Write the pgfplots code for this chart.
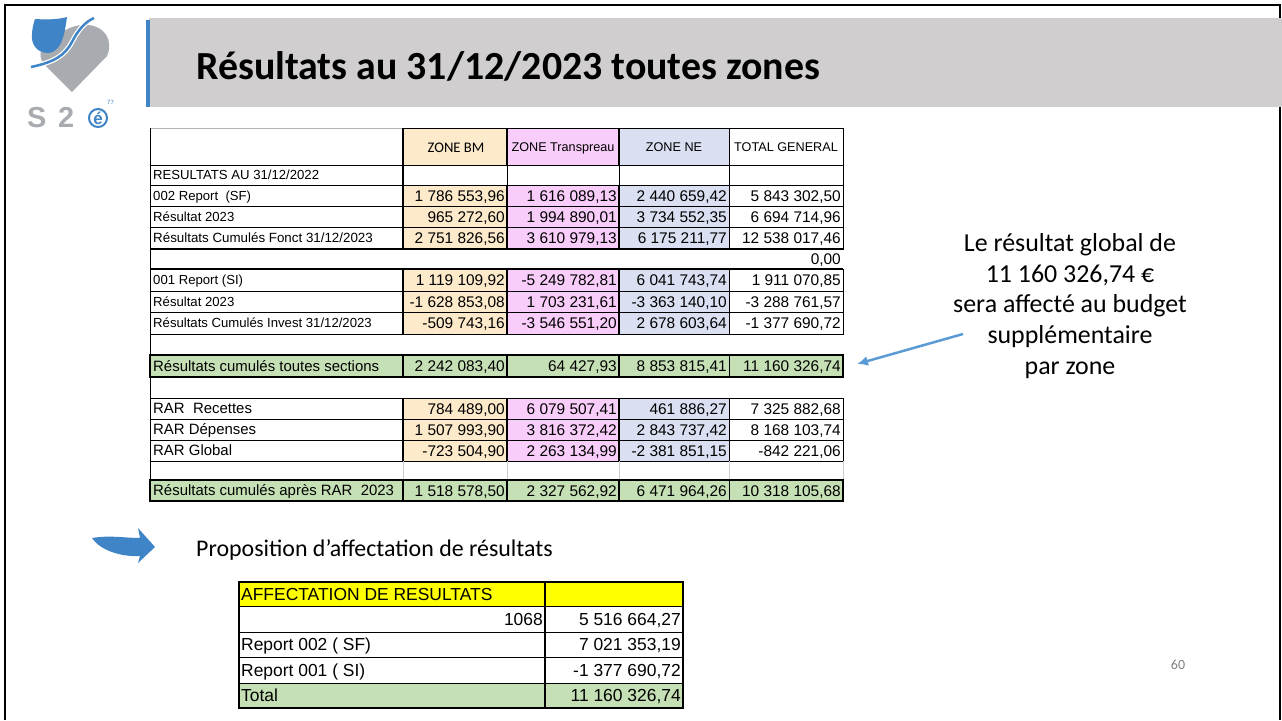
\documentclass[border=0pt]{standalone}
\usepackage{fontspec}
\setmainfont{Liberation Sans}
\newfontfamily\calibri{Carlito}
\usepackage{pgfplots}
\pgfplotsset{compat=1.18}
\usetikzlibrary{arrows.meta}
\definecolor{cBM}{RGB}{253,234,202}
\definecolor{cTR}{RGB}{249,205,249}
\definecolor{cNE}{RGB}{218,223,241}
\definecolor{cGR}{RGB}{197,224,180}
\definecolor{cTitle}{RGB}{208,206,206}
\definecolor{cBlue}{RGB}{62,132,198}
\definecolor{cLogoGray}{RGB}{168,171,175}
\definecolor{cArrow}{RGB}{91,155,213}
\definecolor{cYel}{RGB}{255,255,0}
\newcommand\fs[1]{\fontsize{#1}{#1}\selectfont}
\tikzset{lbl/.style={anchor=base west,inner sep=0},
         num/.style={anchor=base east,inner sep=0,font=\fontsize{15.5}{15.5}\selectfont}}
% coloured row of the main table: top, bottom, label, BM, Transpreau, NE, total, label size
\newcommand\zrow[8]{%
 \fill[cBM] (403,#1) rectangle (507,#2);
 \fill[cTR] (507,#1) rectangle (619,#2);
 \fill[cNE] (619,#1) rectangle (729,#2);
 \draw[line width=0.9pt] (150,#1) rectangle (843,#2);
 \draw[line width=0.9pt] (729,#1) -- (729,#2);
 \draw[line width=1.6pt] (403,#1) -- (403,#2) (507,#1) -- (507,#2) (619,#1) -- (619,#2);
 \node[lbl] at (153,{(#1+#2)/2+4.8}) {\fs{#8}#3};
 \node[num] at (505,{(#1+#2)/2+5.5}) {#4};
 \node[num] at (617,{(#1+#2)/2+5.5}) {#5};
 \node[num] at (727,{(#1+#2)/2+5.5}) {#6};
 \node[num] at (841,{(#1+#2)/2+5.5}) {#7};
}
% green total row
\newcommand\grow[7]{%
 \fill[cGR] (150,#1) rectangle (843,#2);
 \draw[line width=0.9pt] (729,#1) -- (729,#2);
 \draw[line width=1.6pt] (403,#1) -- (403,#2) (507,#1) -- (507,#2) (619,#1) -- (619,#2);
 \draw[line width=2pt] (150,#1) rectangle (843,#2);
 \node[lbl] at (153,{(#1+#2)/2+5.3}) {\fs{15}#3};
 \node[num] at (505,{(#1+#2)/2+5.5}) {#4};
 \node[num] at (617,{(#1+#2)/2+5.5}) {#5};
 \node[num] at (727,{(#1+#2)/2+5.5}) {#6};
 \node[num] at (841,{(#1+#2)/2+5.5}) {#7};
}
% row of the affectation table
\newcommand\arow[4]{%
 \fill[#4] (239,#1) rectangle (683,#2);
 \draw[line width=1pt] (239,#1) rectangle (683,#2);
 \node[lbl] at (241,{(#1+#2)/2+6.3}) {\fs{17.5}#3};
}
\begin{document}
\begin{tikzpicture}
\begin{axis}[width=1282bp,height=720bp,scale only axis,
  xmin=0,xmax=1282,ymin=0,ymax=720,y dir=reverse,
  hide axis,clip=false]
\addplot[draw=none] coordinates {(0,0) (1282,720)};
\fill[white] (0,0) rectangle (1282,720);
% slide frame
\draw[black,line width=2pt] (5,720) -- (5,5) -- (1280,5) -- (1280,720);
% title band
\fill[cTitle] (149,18) rectangle (1282,107);
\fill[cBlue] (145.5,20) rectangle (149.5,107);
\node[anchor=base west,inner sep=0] at (196,79) {\calibri\bfseries\fs{40}Résultats au 31/12/2023 toutes zones};
% logo
\fill[cLogoGray] (72,92) -- (44,64) .. controls (36,55) and (42,40) .. (56,42) .. controls (60,30) and (74,24) .. (88,25) .. controls (104,26) and (114,40) .. (107,56) -- cycle;
\fill[cBlue] (35,19) .. controls (50,20) and (60,19) .. (67,17) .. controls (65,30) and (63,52) .. (48,53) .. controls (37,53) and (31,44) .. (32,35) .. controls (32,28) and (34,22) .. (35,19) -- cycle;
\draw[white,line width=5pt] (31,67) .. controls (55,62) and (65,55) .. (72,42) .. controls (78,30) and (85,22) .. (94,18);
\draw[cBlue,line width=2.5pt] (31,67) .. controls (55,62) and (65,55) .. (72,42) .. controls (78,30) and (85,22) .. (94,18);
\node[lbl,text=cLogoGray] at (27,127) {\bfseries\fs{29}S};
\node[lbl,text=cLogoGray] at (58,127) {\bfseries\fs{29}2};
\draw[cBlue,line width=2pt] (98,118) circle (9);
\node[anchor=base,inner sep=0,text=cBlue] at (98,124) {\bfseries\fs{17}é};
\node[lbl,text=cBlue] at (107,104) {\fs{6}77};
% ===== main table =====
% header
\fill[cBM] (403,128) rectangle (507,165);
\fill[cTR] (507,128) rectangle (619,165);
\fill[cNE] (619,128) rectangle (729,165);
\draw[gray!60,line width=0.8pt] (150,128) -- (403,128);
\draw[line width=0.9pt] (150,128) -- (150,165) -- (843,165) -- (843,128) -- (403,128);
\draw[line width=0.9pt] (729,128) -- (729,165);
\draw[line width=1.6pt] (403,128) -- (403,165) (507,128) -- (507,165) (619,128) -- (619,165);
\node[anchor=base,inner sep=0] at (456,152.5) {\calibri\fs{14.7}ZONE BM};
\node[anchor=base,inner sep=0] at (563,151.5) {\fs{12.7}ZONE Transpreau};
\node[anchor=base,inner sep=0] at (674,151.5) {\fs{12.7}ZONE NE};
\node[anchor=base,inner sep=0] at (786,151.5) {\fs{12.7}TOTAL GENERAL};
% RESULTATS AU row
\draw[line width=0.9pt] (150,165) rectangle (843,185);
\draw[line width=0.9pt] (507,165) -- (507,185) (619,165) -- (619,185) (729,165) -- (729,185);
\draw[line width=1.6pt] (403,165) -- (403,185);
\node[lbl] at (153,179.7) {\fs{13.2}RESULTATS AU 31/12/2022};
% section fonctionnement
\zrow{185}{206}{002 Report~ (SF)}{1 786 553,96}{1 616 089,13}{2 440 659,42}{5 843 302,50}{13.2}
\zrow{206}{227}{Résultat 2023}{965 272,60}{1 994 890,01}{3 734 552,35}{6 694 714,96}{13.2}
\zrow{227}{249}{Résultats Cumulés Fonct 31/12/2023}{2 751 826,56}{3 610 979,13}{6 175 211,77}{12 538 017,46}{13.4}
% blank row
\draw[line width=0.9pt] (150,249) -- (150,269);
\draw[line width=2pt] (150,249) -- (843,249);
\node[num] at (841,264.5) {0,00};
% section investissement
\zrow{269}{291}{001 Report (SI)}{1 119 109,92}{-5 249 782,81}{6 041 743,74}{1 911 070,85}{13.2}
\zrow{291}{312}{Résultat 2023}{-1 628 853,08}{1 703 231,61}{-3 363 140,10}{-3 288 761,57}{13.2}
\zrow{312}{334}{Résultats Cumulés Invest 31/12/2023}{-509 743,16}{-3 546 551,20}{2 678 603,64}{-1 377 690,72}{13.2}
\draw[line width=2pt] (150,269) -- (843,269);
% blank
\draw[line width=0.9pt] (150,334) -- (150,355);
\grow{355}{377}{Résultats cumulés toutes sections}{2 242 083,40}{64 427,93}{8 853 815,41}{11 160 326,74}
\draw[line width=0.9pt] (150,377) -- (150,398);
% RAR
\zrow{398}{419}{RAR~ Recettes}{784 489,00}{6 079 507,41}{461 886,27}{7 325 882,68}{15}
\zrow{419}{440}{RAR Dépenses}{1 507 993,90}{3 816 372,42}{2 843 737,42}{8 168 103,74}{15}
\zrow{440}{461}{RAR Global}{-723 504,90}{2 263 134,99}{-2 381 851,15}{-842 221,06}{15}
\draw[gray!40,line width=0.8pt] (403,461) -- (403,480) (507,461) -- (507,480) (619,461) -- (619,480) (729,461) -- (729,480) (843,461) -- (843,480);
\draw[line width=0.9pt] (150,461) -- (150,480);
\grow{480}{501}{Résultats cumulés après RAR~ 2023}{1 518 578,50}{2 327 562,92}{6 471 964,26}{10 318 105,68}
% ===== right-hand note and arrow =====
\node[align=center,inner sep=0,font=\calibri\fontsize{26}{31}\selectfont] at (1070,306) {Le résultat global de\\11 160 326,74 €\\sera affecté au budget\\supplémentaire\\par zone};
\draw[cArrow,line width=2.5pt,-{Latex[length=11pt,width=10pt]}] (963,334) -- (857,364);
% ===== proposition =====
\fill[cBlue] (92,538) .. controls (110,535) and (125,538) .. (140,538) -- (138,528) -- (155,547) -- (138,563) -- (140,556) .. controls (120,557) and (100,550) .. (92,538) -- cycle;
\node[lbl] at (196,556) {\calibri\fs{24}Proposition d’affectation de résultats};
% ===== affectation table =====
\arow{582}{606}{AFFECTATION DE RESULTATS}{cYel}
\arow{606}{632}{}{white}
\arow{632}{657}{Report 002 ( SF)}{white}
\arow{657}{683}{Report 001 ( SI)}{white}
\arow{683}{708}{Total}{cGR}
\draw[line width=1.6pt] (545,582) -- (545,708);
\draw[line width=2pt] (239,582) rectangle (683,708);
\node[anchor=base east,inner sep=0] at (543,625.3) {\fs{17.5}1068};
\node[anchor=base east,inner sep=0] at (681,625.3) {\fs{17.5}5 516 664,27};
\node[anchor=base east,inner sep=0] at (681,650.8) {\fs{17.5}7 021 353,19};
\node[anchor=base east,inner sep=0] at (681,676.3) {\fs{17.5}-1 377 690,72};
\node[anchor=base east,inner sep=0] at (681,701.8) {\fs{17.5}11 160 326,74};
% page number
\node[inner sep=0,text=gray] at (1178,665) {\calibri\fs{14}60};
\end{axis}
\end{tikzpicture}
\end{document}
